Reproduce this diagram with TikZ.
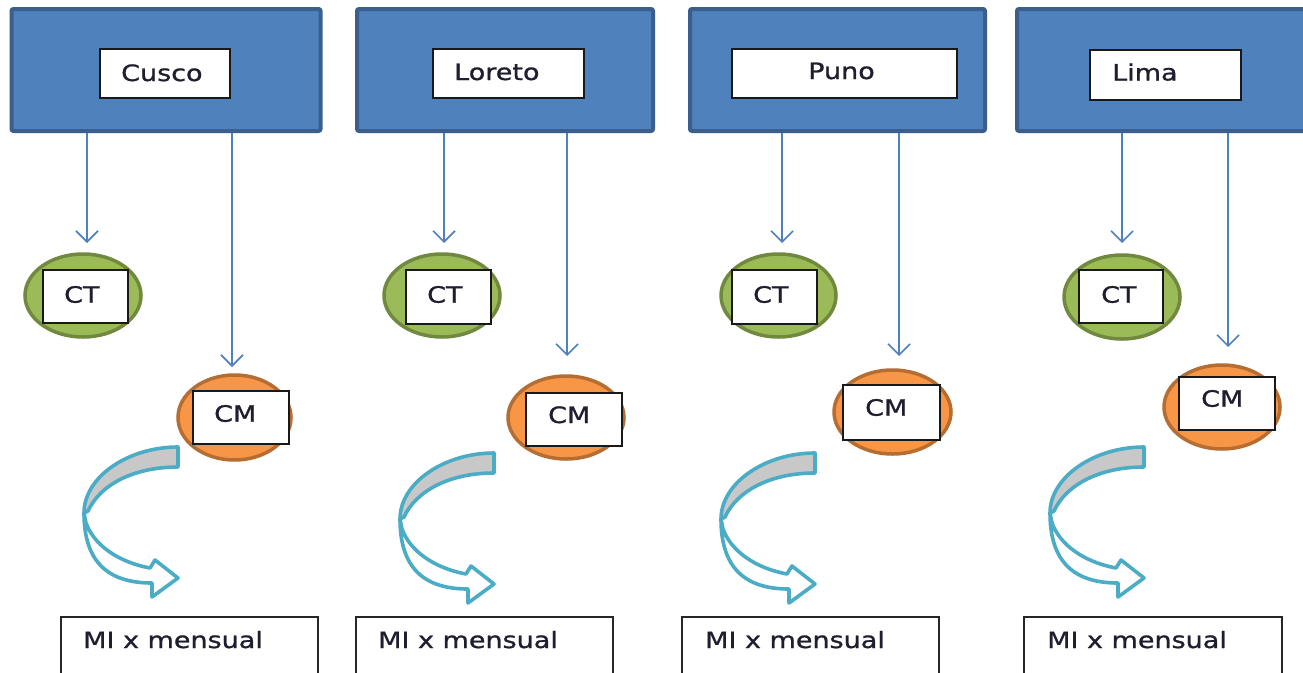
\documentclass[tikz,border=0pt]{standalone}
\usepackage{fontspec}
\usetikzlibrary{shapes.geometric,arrows.meta}
\newfontfamily\lblfont[FakeStretch=1.2,FakeBold=1.0]{DejaVu Sans}
\definecolor{topfill}{HTML}{4F81BD}
\definecolor{topdraw}{HTML}{3A5F8C}
\definecolor{ctfill}{HTML}{9BBB59}
\definecolor{ctdraw}{HTML}{71893F}
\definecolor{cmfill}{HTML}{F79646}
\definecolor{cmdraw}{HTML}{B66D31}
\definecolor{teal}{HTML}{4BACC6}
\definecolor{bandgray}{HTML}{C8C8C8}
\definecolor{txt}{HTML}{1E1E2E}
\tikzset{
  topbox/.style={draw=topdraw,fill=topfill,line width=4pt,rounded corners=2pt,inner sep=0pt},
  whitebox/.style={draw=black!90,fill=white,line width=2pt,inner sep=0pt},
  ctell/.style={ellipse,draw=ctdraw,fill=ctfill,line width=3.5pt,inner sep=0pt},
  cmell/.style={ellipse,draw=cmdraw,fill=cmfill,line width=3.5pt,inner sep=0pt},
  lbl/.style={inner sep=0pt,anchor=base west,text=txt,font=\lblfont\fontsize{22.5}{26}\selectfont},
  conn/.style={draw=topfill,line width=1.6pt,-{Straight Barb[length=11pt,width=22pt]}},
  bottombox/.style={draw=black!85,fill=white,line width=2pt,inner sep=0pt},
  turnarrow/.pic={
    \draw[draw=teal,fill=bandgray,line width=3.6pt,line join=round]
      (0,0) .. controls (-50,0) and (-94,30) .. (-94,66)
      -- (-90,64) .. controls (-78,38) and (-45,20) .. (0,20) -- cycle;
    \draw[draw=teal,fill=white,line width=3.6pt,line join=round]
      (-94,66) .. controls (-94,115) and (-70,136) .. (-26,136)
      -- (-26,150) -- (0,131) -- (-23,113) -- (-28,121)
      .. controls (-60,115) and (-84,98) .. (-92,76) -- cycle;
  }
}
\begin{document}
\begin{tikzpicture}[x=1pt,y=-1pt]
\fill[white] (0,0) rectangle (1303,672);
\useasboundingbox (0,0) rectangle (1303,672);
\clip (0,0) rectangle (1303,672);

% ---------- top boxes ----------
\node[topbox,minimum width=309pt,minimum height=122pt] (top1) at (166,70) {};
\node[topbox,minimum width=296pt,minimum height=122pt] (top2) at (505,70) {};
\node[topbox,minimum width=295pt,minimum height=122pt] (top3) at (837.5,70) {};
\node[topbox,minimum width=303pt,minimum height=122pt] (top4) at (1168.5,70) {};

\node[whitebox,minimum width=130pt,minimum height=49pt] (cuscobox) at (165,73.5) {};
\node[whitebox,minimum width=151pt,minimum height=49pt] (loretobox) at (508.5,73.5) {};
\node[whitebox,minimum width=225pt,minimum height=49pt] (punobox) at (844.5,73.5) {};
\node[whitebox,minimum width=151pt,minimum height=50pt] (limabox) at (1165.5,75) {};
\node[lbl] (cuscotxt) at (121,81) {Cusco};
\node[lbl] (loretotxt) at (454,80) {Loreto};
\node[lbl] (punotxt) at (808,79) {Puno};
\node[lbl] (limatxt) at (1112,80.5) {Lima};

% ---------- CT ellipses ----------
\node[ctell,minimum width=116pt,minimum height=83pt] (ct1) at (83,295.5) {};
\node[ctell,minimum width=116pt,minimum height=83pt] (ct2) at (442,295.5) {};
\node[ctell,minimum width=115pt,minimum height=83pt] (ct3) at (778.5,295.5) {};
\node[ctell,minimum width=116pt,minimum height=84pt] (ct4) at (1122,297) {};
\node[whitebox,minimum width=85pt,minimum height=53pt] (ct1box) at (85.5,296.5) {};
\node[whitebox,minimum width=85pt,minimum height=54pt] (ct2box) at (448.5,297) {};
\node[whitebox,minimum width=85pt,minimum height=54pt] (ct3box) at (774.5,297) {};
\node[whitebox,minimum width=84pt,minimum height=53pt] (ct4box) at (1121,296.5) {};
\node[lbl] (ct1txt) at (64,302.7) {CT};
\node[lbl] (ct2txt) at (427,302.7) {CT};
\node[lbl] (ct3txt) at (753,302.7) {CT};
\node[lbl] (ct4txt) at (1101,302.7) {CT};

% ---------- CM ellipses ----------
\node[cmell,minimum width=113pt,minimum height=85pt] (cm1) at (234.5,417.5) {};
\node[cmell,minimum width=116pt,minimum height=83pt] (cm2) at (566,417.5) {};
\node[cmell,minimum width=117pt,minimum height=84pt] (cm3) at (892.5,412) {};
\node[cmell,minimum width=116pt,minimum height=84pt] (cm4) at (1222,407) {};
\node[whitebox,minimum width=96pt,minimum height=53pt] (cm1box) at (241,417.5) {};
\node[whitebox,minimum width=96pt,minimum height=53pt] (cm2box) at (574,419.5) {};
\node[whitebox,minimum width=97pt,minimum height=55pt] (cm3box) at (891.5,412.5) {};
\node[whitebox,minimum width=96pt,minimum height=53pt] (cm4box) at (1227,403.5) {};
\node[lbl] (cm1txt) at (214,421.7) {CM};
\node[lbl] (cm2txt) at (548,423) {CM};
\node[lbl] (cm3txt) at (865,415.7) {CM};
\node[lbl] (cm4txt) at (1201,406.7) {CM};

% ---------- connectors ----------
\coordinate (ct1tip) at (87,243);
\coordinate (ct2tip) at (444,243);
\coordinate (ct3tip) at (782,243);
\coordinate (ct4tip) at (1122,243);
\coordinate (cm1tip) at (232,367);
\coordinate (cm2tip) at (567,356);
\coordinate (cm3tip) at (899,356);
\coordinate (cm4tip) at (1228,347);
\draw[conn] (top1.south -| ct1tip) -- (ct1tip);
\draw[conn] (top1.south -| cm1tip) -- (cm1tip);
\draw[conn] (top2.south -| ct2tip) -- (ct2tip);
\draw[conn] (top2.south -| cm2tip) -- (cm2tip);
\draw[conn] (top3.south -| ct3tip) -- (ct3tip);
\draw[conn] (top3.south -| cm3tip) -- (cm3tip);
\draw[conn] (top4.south -| ct4tip) -- (ct4tip);
\draw[conn] (top4.south -| cm4tip) -- (cm4tip);

% ---------- curved arrows ----------
\pic at (178,447) {turnarrow};
\pic at (494,453) {turnarrow};
\pic at (815,453) {turnarrow};
\pic at (1144,447) {turnarrow};

% ---------- bottom boxes ----------
\node[bottombox,minimum width=257pt,minimum height=83pt] (mi1) at (189.5,658.5) {};
\node[bottombox,minimum width=257pt,minimum height=83pt] (mi2) at (484.5,658.5) {};
\node[bottombox,minimum width=257pt,minimum height=83pt] (mi3) at (810.5,658.5) {};
\node[bottombox,minimum width=258pt,minimum height=83pt] (mi4) at (1153,658.5) {};
\node[lbl] (mi1txt) at (83,648) {MI x mensual};
\node[lbl] (mi2txt) at (378,648) {MI x mensual};
\node[lbl] (mi3txt) at (705,648) {MI x mensual};
\node[lbl] (mi4txt) at (1047,648) {MI x mensual};
\end{tikzpicture}
\end{document}
